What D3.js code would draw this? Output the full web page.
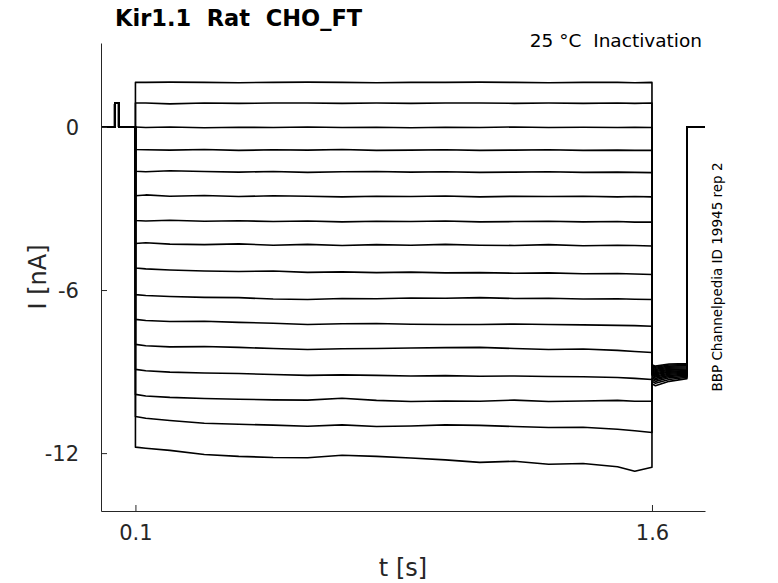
<!DOCTYPE html>
<html>
<head>
<meta charset="utf-8">
<script src="https://cdn.jsdelivr.net/npm/d3@7"></script>
<style>
  html, body { margin: 0; padding: 0; background: #fff; }
  svg { display: block; }
  text { font-family: "DejaVu Sans", sans-serif; fill: #262626; white-space: pre; }
</style>
</head>
<body>
<svg id="chart" width="778" height="583"></svg>
<script>
// ---- data ----
const xTicks = [0.1, 1.6];
const yTicks = [-12, -6, 0];
const prePulseTimes = [0.0, 0.040, 0.040, 0.0516, 0.0516, 0.1];
const prePulseValues = [0, 0, 0.88, 0.88, 0, 0];
const stepTimes = [0.1, 0.13, 0.2, 0.3, 0.4, 0.5, 0.6, 0.7, 0.8, 0.9, 1.0, 1.1, 1.2, 1.3, 1.4, 1.5, 1.55, 1.6];
const trace01 = [1.64, 1.64, 1.65, 1.64, 1.63, 1.64, 1.65, 1.64, 1.63, 1.64, 1.64, 1.65, 1.64, 1.63, 1.64, 1.64, 1.63, 1.64];
const trace02 = [0.88, 0.88, 0.85, 0.88, 0.87, 0.88, 0.88, 0.87, 0.88, 0.87, 0.88, 0.88, 0.87, 0.88, 0.87, 0.88, 0.87, 0.88];
const trace03 = [0.00, -0.02, 0.00, -0.03, -0.01, -0.02, 0.00, -0.02, -0.01, -0.03, -0.01, -0.02, 0.00, -0.02, -0.01, -0.02, -0.01, -0.02];
const trace04 = [-0.83, -0.84, -0.85, -0.83, -0.86, -0.84, -0.85, -0.83, -0.86, -0.85, -0.84, -0.86, -0.85, -0.84, -0.86, -0.85, -0.86, -0.86];
const trace05 = [-1.63, -1.65, -1.61, -1.64, -1.66, -1.64, -1.67, -1.65, -1.64, -1.66, -1.65, -1.67, -1.66, -1.65, -1.67, -1.66, -1.67, -1.68];
const trace06 = [-2.53, -2.50, -2.55, -2.52, -2.56, -2.53, -2.55, -2.57, -2.55, -2.56, -2.54, -2.57, -2.55, -2.56, -2.55, -2.57, -2.56, -2.57];
const trace07 = [-3.44, -3.46, -3.43, -3.47, -3.45, -3.48, -3.46, -3.49, -3.47, -3.48, -3.46, -3.49, -3.48, -3.47, -3.49, -3.48, -3.50, -3.50];
const trace08 = [-4.29, -4.26, -4.31, -4.33, -4.30, -4.35, -4.32, -4.36, -4.33, -4.35, -4.32, -4.35, -4.36, -4.33, -4.37, -4.35, -4.36, -4.38];
const trace09 = [-5.19, -5.22, -5.26, -5.30, -5.32, -5.30, -5.35, -5.33, -5.36, -5.34, -5.37, -5.36, -5.38, -5.37, -5.40, -5.39, -5.41, -5.43];
const trace10 = [-6.17, -6.20, -6.24, -6.27, -6.28, -6.33, -6.35, -6.31, -6.32, -6.29, -6.30, -6.28, -6.31, -6.30, -6.33, -6.32, -6.34, -6.35];
const trace11 = [-7.08, -7.12, -7.16, -7.15, -7.19, -7.22, -7.27, -7.24, -7.23, -7.26, -7.27, -7.27, -7.25, -7.27, -7.28, -7.30, -7.31, -7.33];
const trace12 = [-8.00, -8.05, -8.09, -8.08, -8.11, -8.15, -8.19, -8.16, -8.15, -8.13, -8.12, -8.11, -8.15, -8.19, -8.17, -8.22, -8.26, -8.30];
const trace13 = [-8.92, -8.97, -9.02, -9.05, -9.07, -9.11, -9.14, -9.12, -9.14, -9.16, -9.15, -9.17, -9.16, -9.18, -9.19, -9.22, -9.25, -9.29];
const trace14 = [-9.84, -9.90, -9.95, -9.99, -10.02, -10.04, -10.05, -9.98, -10.06, -10.10, -10.08, -10.09, -10.05, -10.10, -10.08, -10.06, -10.09, -10.09];
const trace15 = [-10.65, -10.72, -10.80, -10.90, -10.94, -10.97, -11.01, -10.96, -11.02, -11.00, -10.96, -10.98, -11.02, -11.06, -11.05, -11.12, -11.18, -11.24];
const trace16 = [-11.78, -11.82, -11.90, -12.05, -12.12, -12.16, -12.17, -12.08, -12.12, -12.18, -12.25, -12.34, -12.30, -12.41, -12.38, -12.50, -12.67, -12.52];
const tailTimes = [1.6, 1.61, 1.65, 1.7015];
const tailStart = [-8.75, -8.78, -8.82, -8.86, -8.90, -8.93, -8.97, -9.00, -9.04, -9.08, -9.12, -9.17, -9.22, -9.28, -9.35, -9.45];
const tailDip   = [-8.80, -8.84, -8.88, -8.92, -8.96, -9.00, -9.04, -9.08, -9.12, -9.16, -9.20, -9.25, -9.30, -9.36, -9.43, -9.52];
const tailMid   = [-8.72, -8.76, -8.80, -8.84, -8.88, -8.92, -8.95, -8.99, -9.02, -9.06, -9.10, -9.14, -9.18, -9.23, -9.29, -9.36];
const tailEnd   = [-8.70, -8.74, -8.78, -8.82, -8.86, -8.90, -8.93, -8.96, -9.00, -9.03, -9.06, -9.10, -9.13, -9.17, -9.21, -9.26];
const postTimes = [1.7015, 1.753];
const postLevel = 0;

const steps = [trace01, trace02, trace03, trace04, trace05, trace06, trace07, trace08,
               trace09, trace10, trace11, trace12, trace13, trace14, trace15, trace16];

// ---- build each sweep as a list of [t, I] ----
const sweeps = steps.map((vals, i) => {
  const pts = [];
  prePulseTimes.forEach((t, k) => pts.push([t, prePulseValues[k]]));
  stepTimes.forEach((t, k) => pts.push([t, vals[k]]));
  pts.push([tailTimes[0], tailStart[i]]);
  pts.push([tailTimes[1], tailDip[i]]);
  pts.push([tailTimes[2], tailMid[i]]);
  pts.push([tailTimes[3], tailEnd[i]]);
  pts.push([postTimes[0], postLevel]);
  pts.push([postTimes[1], postLevel]);
  return pts;
});

// ---- chart ----
const svg = d3.select("#chart");
const L = 101, R = 705, T = 43, B = 511;
const x = d3.scaleLinear().domain([0, 1.754]).range([L, R]);
const y = d3.scaleLinear().domain([-14.13, 3.09]).range([B, T]);

const line = d3.line().x(d => x(d[0])).y(d => y(d[1]));

svg.append("g")
  .selectAll("path")
  .data(sweeps)
  .join("path")
  .attr("d", line)
  .attr("fill", "none")
  .attr("stroke", "#000")
  .attr("stroke-width", 1.6)
  .attr("stroke-linejoin", "round");

// axes (MATLAB style: inward ticks, box off)
const xAxis = d3.axisBottom(x).tickValues(xTicks).tickFormat(d3.format(".1f"))
  .tickSizeInner(-6).tickSizeOuter(0).tickPadding(14);
const yAxis = d3.axisLeft(y).tickValues(yTicks).tickFormat(d => String(d))
  .tickSizeInner(-6).tickSizeOuter(0).tickPadding(22);

const gx = svg.append("g").attr("transform", `translate(0,${B})`).call(xAxis);
const gy = svg.append("g").attr("transform", `translate(${L},0)`).call(yAxis);
[gx, gy].forEach(g => {
  g.select(".domain").attr("stroke", "#262626").attr("stroke-width", 1);
  g.selectAll(".tick line").attr("stroke", "#262626").attr("stroke-width", 1);
  g.selectAll(".tick text").attr("font-size", 21).attr("font-family", "DejaVu Sans").attr("fill", "#262626");
});
gy.selectAll(".tick text").attr("dy", "0.35em");

// labels
svg.append("text").attr("x", 403).attr("y", 576).attr("text-anchor", "middle")
  .attr("font-size", 24).text("t [s]");
svg.append("text").attr("transform", `translate(46,277) rotate(-90)`).attr("text-anchor", "middle")
  .attr("font-size", 24).text("I [nA]");
svg.append("text").attr("x", 115).attr("y", 26).attr("font-size", 22.5).attr("font-weight", "bold")
  .style("fill", "#000").text("Kir1.1  Rat  CHO_FT");
svg.append("text").attr("x", 702).attr("y", 47).attr("text-anchor", "end")
  .attr("font-size", 18.5).style("fill", "#000").text("25 °C  Inactivation");
svg.append("text").attr("transform", `translate(722,277) rotate(-90)`).attr("text-anchor", "middle")
  .attr("font-size", 13.5).style("fill", "#000").text("BBP Channelpedia ID 19945 rep 2");
</script>
</body>
</html>
